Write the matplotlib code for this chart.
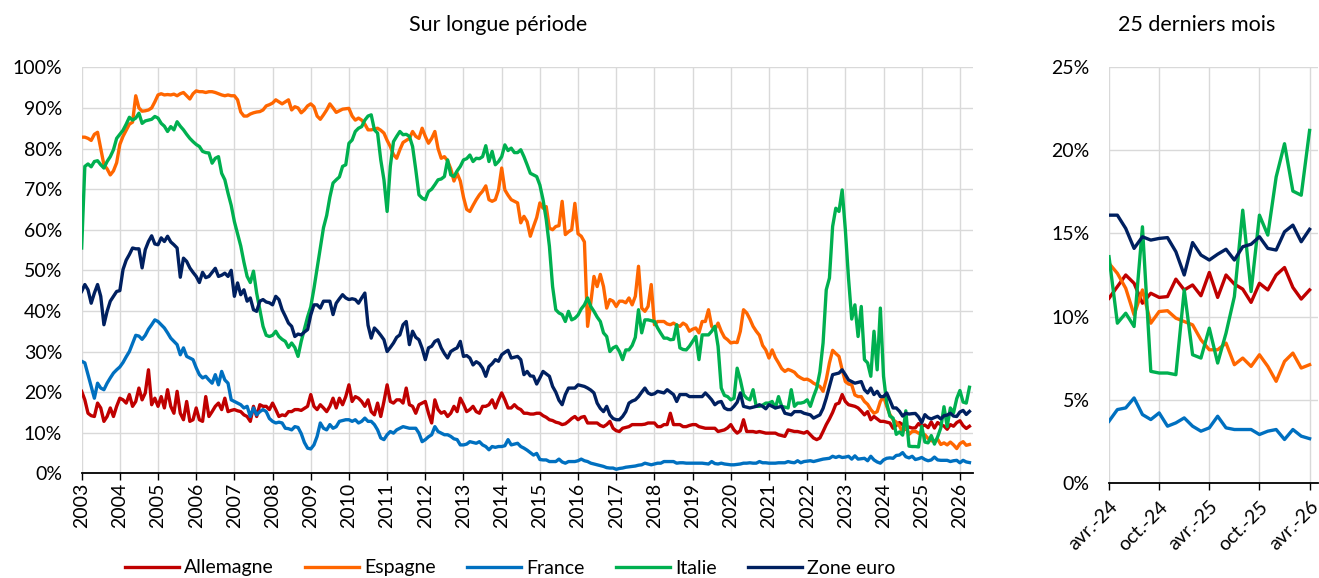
import matplotlib

matplotlib.use("Agg")
import matplotlib.pyplot as plt
import numpy as np
from matplotlib.ticker import FuncFormatter, MultipleLocator

# Monthly series, Jan 2003 -> Apr 2026 (values in %), one row per year.
ALLEMAGNE = [
    20.2, 18.1, 14.8, 14.2, 14.0, 17.3, 16.1, 12.8, 14.0, 16.1, 14.0, 16.5,  # 2003
    18.5, 18.1, 17.3, 19.4, 16.5, 17.7, 21.0, 18.1, 19.8, 25.5, 16.9, 18.5,  # 2004
    16.5, 18.9, 16.1, 20.6, 16.5, 14.8, 20.2, 14.8, 13.2, 17.7, 12.8, 13.2,  # 2005
    16.1, 13.2, 12.8, 18.9, 14.0, 15.2, 16.5, 17.3, 15.7, 18.5, 15.2, 15.5,  # 2006
    15.7, 15.4, 15.2, 14.4, 14.0, 12.8, 16.5, 14.0, 16.9, 16.5, 16.5, 15.7,  # 2007
    17.3, 15.7, 14.0, 14.4, 14.2, 15.2, 15.2, 15.7, 15.7, 15.5, 16.0, 16.5,  # 2008
    19.4, 16.5, 15.7, 16.9, 16.1, 15.2, 16.5, 18.5, 16.1, 18.5, 16.9, 18.9,  # 2009
    21.8, 17.7, 18.9, 18.5, 17.7, 16.5, 18.1, 15.2, 14.4, 17.3, 14.0, 17.7,  # 2010
    21.8, 17.7, 17.3, 18.1, 18.1, 17.3, 21.0, 16.9, 16.5, 14.8, 16.9, 17.3,  # 2011
    17.7, 14.8, 12.4, 18.1, 15.7, 14.8, 15.2, 14.0, 14.8, 16.5, 15.2, 18.5,  # 2012
    17.0, 15.2, 15.7, 16.5, 15.2, 14.8, 16.5, 16.5, 16.9, 18.1, 16.1, 18.1,  # 2013
    19.8, 18.1, 16.1, 16.1, 16.9, 16.1, 15.7, 14.8, 14.8, 14.6, 14.6, 14.8,  # 2014
    14.8, 14.2, 13.8, 13.2, 13.0, 12.6, 12.4, 12.0, 12.2, 12.8, 13.5, 14.0,  # 2015
    13.2, 13.8, 14.0, 12.4, 12.4, 12.4, 12.4, 11.8, 11.5, 12.0, 12.8, 11.1,  # 2016
    10.5, 10.3, 11.1, 11.3, 11.5, 12.0, 12.0, 12.0, 12.0, 12.1, 12.4, 12.4,  # 2017
    12.4, 11.5, 11.5, 12.0, 12.0, 14.8, 12.0, 12.0, 12.0, 11.5, 11.5, 11.8,  # 2018
    12.0, 12.0, 11.5, 11.3, 11.1, 11.1, 11.1, 11.1, 10.3, 10.5, 10.7, 11.2,  # 2019
    12.0, 10.7, 9.9, 10.5, 13.2, 10.3, 10.3, 10.3, 10.1, 10.3, 10.1, 9.9,  # 2020
    9.9, 9.9, 9.9, 9.5, 9.3, 9.1, 10.7, 10.5, 10.3, 10.3, 10.1, 9.9,  # 2021
    10.3, 9.5, 8.7, 8.3, 8.7, 10.3, 12.0, 13.4, 15.0, 17.0, 17.3, 19.4,  # 2022
    17.7, 16.9, 16.7, 16.5, 16.1, 15.3, 14.4, 15.2, 13.2, 14.0, 13.4, 12.8,  # 2023
    12.8, 12.6, 12.4, 11.1, 11.8, 12.5, 12.0, 10.8, 11.4, 11.15, 11.2, 12.25,  # 2024
    11.6, 11.9, 11.25, 12.65, 11.15, 12.5, 11.95, 11.65, 10.85, 12.0, 11.6, 12.5,  # 2025
    12.95, 11.75, 11.05, 11.6,  # 2026
]

ESPAGNE = [
    82.8, 82.8, 82.5, 82.0, 83.5, 84.0, 80.0, 76.0, 75.0, 73.5, 74.5, 76.5,  # 2003
    81.0, 83.0, 84.5, 86.0, 86.5, 93.0, 90.0, 89.2, 89.3, 89.5, 90.0, 91.5,  # 2004
    93.2, 93.5, 93.2, 93.3, 93.2, 93.4, 93.0, 93.5, 93.8, 93.0, 92.2, 93.5,  # 2005
    94.2, 94.0, 94.0, 93.8, 94.0, 94.0, 93.8, 93.5, 93.2, 93.0, 93.2, 93.0,  # 2006
    93.0, 92.0, 89.0, 88.0, 88.0, 88.5, 88.8, 89.0, 89.1, 89.5, 90.5, 90.8,  # 2007
    91.2, 92.0, 91.5, 91.0, 91.5, 92.0, 89.5, 90.3, 90.0, 88.8, 89.5, 90.5,  # 2008
    91.0, 90.3, 88.0, 87.2, 88.3, 89.5, 91.0, 90.0, 88.9, 89.3, 89.7, 89.8,  # 2009
    89.9, 88.0, 87.0, 87.5, 87.0, 86.0, 84.6, 84.6, 84.8, 85.0, 84.5, 83.8,  # 2010
    82.0, 80.5, 78.5, 77.6, 79.7, 81.5, 82.0, 82.5, 84.2, 83.0, 82.5, 85.0,  # 2011
    83.0, 81.3, 82.5, 84.2, 80.0, 77.6, 78.0, 77.0, 75.0, 72.0, 73.9, 72.0,  # 2012
    68.0, 65.0, 64.5, 66.0, 67.4, 68.6, 69.5, 70.8, 67.4, 67.0, 67.4, 69.8,  # 2013
    75.2, 69.8, 68.5, 67.4, 67.0, 66.6, 61.7, 63.3, 62.0, 58.4, 60.8, 63.0,  # 2014
    66.6, 65.3, 65.7, 60.4, 60.0, 60.8, 61.0, 67.0, 58.8, 59.5, 60.0, 66.5,  # 2015
    59.0, 58.4, 57.0, 36.2, 42.0, 48.5, 46.0, 49.0, 46.0, 40.7, 42.8, 42.4,  # 2016
    41.1, 42.4, 42.4, 42.0, 43.2, 41.5, 43.6, 51.0, 40.7, 39.9, 41.1, 46.5,  # 2017
    36.6, 37.4, 37.4, 37.4, 36.8, 36.6, 37.0, 36.5, 36.2, 37.0, 36.5, 35.0,  # 2018
    35.5, 35.8, 34.6, 37.4, 37.4, 40.3, 36.2, 35.4, 37.0, 35.0, 33.5, 32.9,  # 2019
    32.1, 32.3, 32.2, 35.0, 40.3, 39.5, 38.0, 36.2, 35.0, 34.0, 31.5, 30.4,  # 2020
    28.4, 30.4, 28.5, 27.2, 25.8, 25.1, 25.6, 25.3, 24.9, 24.0, 23.5, 23.1,  # 2021
    23.2, 22.8, 22.2, 21.8, 21.4, 20.2, 23.1, 27.2, 30.3, 29.5, 28.8, 25.5,  # 2022
    22.6, 22.0, 21.8, 19.3, 18.9, 18.9, 17.7, 17.0, 15.7, 14.8, 15.2, 17.7,  # 2023
    18.9, 16.5, 14.5, 13.2, 12.6, 11.7, 10.1, 11.6, 9.6, 10.3, 10.35, 9.9,  # 2024
    9.7, 9.5, 8.6, 8.0, 8.0, 8.4, 7.1, 7.5, 7.0, 7.7, 7.0, 6.1,  # 2025
    7.3, 7.8, 6.9, 7.1,  # 2026
]

FRANCE = [
    27.6, 27.2, 24.3, 21.4, 18.5, 22.2, 21.0, 20.6, 22.2, 23.5, 24.7, 25.5,  # 2003
    26.2, 27.3, 28.7, 30.0, 32.0, 34.0, 33.8, 33.0, 34.0, 35.5, 36.6, 37.8,  # 2004
    37.4, 36.6, 35.8, 34.6, 33.3, 32.5, 31.7, 29.2, 30.9, 28.8, 28.4, 28.0,  # 2005
    26.0, 24.3, 23.5, 23.9, 23.0, 22.2, 24.3, 21.8, 25.1, 23.0, 22.2, 18.1,  # 2006
    17.7, 17.3, 16.9, 16.1, 16.5, 14.0, 16.1, 14.4, 15.2, 15.7, 15.2, 13.5,  # 2007
    12.8, 12.4, 12.6, 12.4, 11.1, 11.0, 10.7, 11.5, 11.3, 9.8, 7.6, 6.2,  # 2008
    6.0, 7.0, 9.1, 12.4, 11.1, 10.7, 12.0, 11.1, 11.5, 12.8, 13.0, 13.2,  # 2009
    13.2, 12.8, 13.2, 12.4, 12.8, 13.6, 12.8, 12.8, 12.0, 10.7, 8.7, 8.3,  # 2010
    9.5, 10.3, 9.9, 10.7, 11.1, 11.5, 11.3, 11.1, 11.1, 11.1, 9.9, 7.8,  # 2011
    8.3, 9.0, 9.5, 11.5, 10.3, 9.9, 9.5, 9.5, 9.1, 8.5, 8.3, 7.0,  # 2012
    7.0, 7.2, 7.8, 7.6, 7.4, 7.8, 7.0, 6.6, 5.8, 6.6, 6.4, 6.6,  # 2013
    6.6, 6.8, 8.3, 7.0, 7.2, 7.4, 6.6, 6.2, 5.7, 5.1, 4.5, 4.9,  # 2014
    3.4, 3.3, 3.3, 2.9, 2.9, 2.9, 3.5, 2.8, 2.5, 2.9, 2.9, 2.9,  # 2015
    3.1, 3.5, 3.1, 2.9, 2.5, 2.3, 2.1, 1.9, 1.7, 1.4, 1.3, 1.3,  # 2016
    1.0, 1.2, 1.3, 1.5, 1.6, 1.7, 1.8, 2.0, 2.1, 2.5, 2.3, 2.1,  # 2017
    2.3, 2.5, 2.5, 2.9, 2.9, 2.9, 2.9, 2.5, 2.6, 2.6, 2.5, 2.5,  # 2018
    2.5, 2.5, 2.5, 2.5, 2.4, 2.3, 2.9, 2.4, 2.3, 2.5, 2.3, 2.2,  # 2019
    2.1, 2.1, 2.2, 2.3, 2.5, 2.5, 2.6, 2.5, 2.5, 2.9, 2.6, 2.6,  # 2020
    2.5, 2.5, 2.5, 2.6, 2.6, 2.6, 2.9, 2.7, 2.6, 3.1, 2.6, 2.9,  # 2021
    3.0, 3.1, 2.9, 3.1, 3.3, 3.5, 3.6, 3.7, 4.2, 3.9, 4.2, 3.9,  # 2022
    4.0, 4.2, 3.5, 4.3, 3.5, 3.6, 3.7, 3.1, 4.2, 3.3, 2.8, 2.5,  # 2023
    3.3, 3.7, 3.8, 3.7, 4.4, 4.5, 5.1, 4.1, 3.8, 4.2, 3.4, 3.6,  # 2024
    3.9, 3.4, 3.1, 3.3, 4.0, 3.3, 3.2, 3.2, 3.2, 2.9, 3.1, 3.2,  # 2025
    2.6, 3.2, 2.8, 2.65,  # 2026
]

ITALIE = [
    55.5, 75.6, 76.2, 75.5, 76.8, 77.0, 76.0, 75.2, 76.8, 78.0, 79.7, 82.5,  # 2003
    83.5, 84.5, 86.0, 87.7, 87.0, 87.5, 88.7, 86.2, 86.8, 87.0, 87.2, 87.9,  # 2004
    87.5, 86.2, 85.5, 84.2, 85.4, 84.6, 86.6, 85.5, 84.6, 83.5, 82.5, 81.7,  # 2005
    81.0, 80.5, 79.3, 79.0, 78.9, 76.4, 77.6, 78.0, 73.9, 72.3, 69.0, 66.0,  # 2006
    62.0, 59.0, 56.0, 52.0, 48.5, 47.0, 49.8, 44.4, 40.3, 36.2, 34.0, 33.7,  # 2007
    34.0, 35.0, 33.7, 33.0, 32.5, 31.0, 32.1, 31.0, 28.8, 32.5, 35.5, 38.5,  # 2008
    41.0, 45.5, 50.5, 55.5, 60.5, 63.5, 68.0, 71.5, 72.3, 73.0, 75.6, 76.0,  # 2009
    81.3, 82.1, 84.2, 85.0, 85.4, 87.0, 88.0, 88.3, 84.6, 83.8, 77.2, 72.3,  # 2010
    64.5, 75.6, 81.7, 83.0, 84.2, 83.4, 83.5, 83.0, 80.5, 74.8, 68.6, 67.8,  # 2011
    67.4, 69.4, 70.0, 71.1, 72.3, 72.5, 73.1, 77.2, 73.5, 73.1, 74.5, 75.6,  # 2012
    77.2, 77.5, 78.4, 76.8, 77.6, 77.5, 78.0, 80.7, 76.8, 79.3, 76.0, 76.8,  # 2013
    78.0, 80.9, 79.5, 80.1, 79.0, 79.0, 79.7, 78.0, 76.0, 73.9, 73.5, 73.1,  # 2014
    71.0, 67.4, 62.5, 55.9, 46.0, 40.3, 39.5, 39.1, 37.4, 39.9, 37.8, 38.2,  # 2015
    39.0, 40.5, 41.5, 43.2, 41.1, 39.9, 38.5, 37.4, 34.6, 33.7, 30.0, 30.9,  # 2016
    31.3, 30.0, 28.0, 30.4, 30.4, 31.5, 33.5, 40.3, 34.6, 37.8, 37.8, 37.6,  # 2017
    37.4, 35.8, 34.5, 33.3, 33.3, 32.9, 33.0, 36.6, 30.9, 30.5, 30.4, 31.3,  # 2018
    32.5, 33.7, 28.0, 34.1, 34.1, 34.1, 35.0, 36.2, 31.3, 21.0, 19.2, 18.9,  # 2019
    18.1, 18.5, 25.9, 23.0, 19.4, 18.5, 18.1, 20.6, 16.5, 16.5, 16.8, 17.3,  # 2020
    17.3, 17.7, 16.1, 18.9, 16.5, 16.3, 16.1, 20.6, 16.5, 17.3, 17.3, 17.5,  # 2021
    18.1, 16.5, 18.9, 21.0, 25.0, 32.1, 45.2, 48.1, 60.8, 65.3, 64.5, 69.8,  # 2022
    60.0, 48.0, 38.0, 41.5, 33.7, 41.1, 28.0, 27.2, 23.9, 35.0, 25.5, 40.7,  # 2023
    23.9, 17.3, 14.1, 13.6, 9.6, 10.2, 9.4, 15.4, 6.7, 6.6, 6.6, 6.5,  # 2024
    11.6, 7.7, 7.5, 9.3, 7.2, 9.0, 11.2, 16.4, 11.5, 16.1, 14.9, 18.4,  # 2025
    20.4, 17.55, 17.3, 21.2,  # 2026
]

ZONE_EURO = [
    44.8, 46.5, 45.2, 41.9, 44.4, 46.5, 43.6, 36.6, 39.9, 42.4, 43.6, 44.8,  # 2003
    45.0, 50.2, 52.5, 53.9, 55.5, 55.3, 55.3, 50.6, 55.1, 57.1, 58.5, 56.5,  # 2004
    56.3, 58.0, 57.1, 58.4, 57.0, 56.3, 55.5, 48.3, 53.0, 52.2, 50.6, 49.5,  # 2005
    48.5, 47.0, 49.5, 48.2, 48.5, 49.5, 50.5, 48.5, 48.8, 49.3, 48.5, 50.0,  # 2006
    43.6, 46.9, 44.0, 45.2, 42.4, 43.2, 40.3, 39.9, 42.4, 42.8, 42.2, 42.0,  # 2007
    41.5, 43.6, 42.8, 40.3, 38.7, 37.0, 36.2, 33.7, 34.3, 34.1, 34.8, 35.4,  # 2008
    39.0, 41.5, 41.5, 40.7, 42.4, 42.4, 42.4, 39.1, 41.9, 43.0, 44.0, 43.2,  # 2009
    42.8, 43.0, 42.8, 41.9, 43.2, 44.4, 36.5, 33.3, 35.8, 35.0, 34.0, 32.9,  # 2010
    30.0, 31.0, 32.1, 33.5, 34.1, 36.6, 37.4, 31.7, 35.0, 33.5, 32.9, 30.8,  # 2011
    28.0, 30.9, 31.3, 32.5, 32.9, 30.9, 29.5, 28.4, 30.0, 30.5, 30.9, 32.5,  # 2012
    28.8, 29.0, 28.4, 26.7, 27.5, 27.0, 25.9, 23.9, 26.3, 27.0, 28.0, 27.6,  # 2013
    29.2, 29.8, 30.3, 28.4, 28.6, 28.8, 28.0, 24.3, 25.1, 24.0, 23.9, 22.0,  # 2014
    23.5, 25.1, 24.5, 23.9, 21.4, 20.0, 18.0, 16.9, 19.4, 21.0, 21.0, 21.0,  # 2015
    21.8, 21.6, 21.4, 21.0, 20.5, 19.8, 17.3, 16.0, 15.2, 16.5, 14.4, 13.5,  # 2016
    13.2, 13.2, 14.0, 15.2, 17.3, 17.8, 18.1, 18.9, 20.0, 21.0, 19.8, 19.4,  # 2017
    19.6, 20.2, 20.0, 19.8, 20.6, 20.0, 19.4, 17.7, 19.4, 19.4, 19.4, 18.9,  # 2018
    18.9, 18.9, 18.9, 18.9, 19.8, 19.0, 18.1, 16.9, 17.5, 17.7, 16.1, 15.7,  # 2019
    15.7, 16.5, 17.5, 19.8, 16.5, 16.3, 16.1, 16.3, 16.5, 16.9, 16.5, 15.9,  # 2020
    16.9, 16.5, 16.1, 16.3, 16.5, 14.8, 14.6, 14.4, 15.2, 15.2, 15.2, 14.8,  # 2021
    14.6, 14.4, 13.6, 14.0, 14.4, 16.0, 18.5, 21.4, 24.3, 24.5, 24.7, 25.5,  # 2022
    24.3, 23.0, 22.6, 22.2, 22.4, 22.6, 20.6, 19.8, 21.0, 19.4, 20.2, 18.9,  # 2023
    18.9, 19.8, 18.0, 16.1, 16.1, 15.3, 14.1, 14.8, 14.6, 14.7, 14.75, 13.9,  # 2024
    12.5, 14.45, 13.7, 13.4, 13.75, 14.05, 13.4, 14.2, 14.35, 14.8, 14.1, 14.0,  # 2025
    15.1, 15.5, 14.5, 15.25,  # 2026
]

YEARS = list(range(2003, 2027))
N_RECENT = 25
RECENT_TICKS = [0, 6, 12, 18, 24]
RECENT_LABELS = ["avr.-24", "oct.-24", "avr.-25", "oct.-25", "avr.-26"]

SERIES = [
    ("Allemagne", ALLEMAGNE, "#C00000"),
    ("Espagne", ESPAGNE, "#FF6600"),
    ("France", FRANCE, "#0070C0"),
    ("Italie", ITALIE, "#00B050"),
    ("Zone euro", ZONE_EURO, "#002060"),
]

FONT = ["Lato", "DejaVu Sans"]
GRID = "#d9d9d9"
TICK_SIZE = 14

plt.rcParams.update({"font.family": FONT, "font.size": TICK_SIZE})


def _frame(ax):
    for side in ("top", "right", "left"):
        ax.spines[side].set_visible(False)
    ax.spines["bottom"].set_color("black")
    ax.spines["bottom"].set_linewidth(1.3)
    ax.grid(True, color=GRID, linewidth=1.0)
    ax.set_axisbelow(True)
    ax.yaxis.set_major_formatter(FuncFormatter(lambda v, _: f"{v:.0f}%"))
    ax.tick_params(axis="y", length=0, pad=14, labelsize=TICK_SIZE)
    ax.tick_params(axis="x", length=5, width=1, direction="out", color="black")


fig = plt.figure(figsize=(13.19, 5.78), dpi=100)

# long period
ax = fig.add_axes([0.0619, 0.1811, 0.6755, 0.7024])
months = np.arange(len(ALLEMAGNE))
for name, values, color in SERIES:
    ax.plot(months, values, color=color, linewidth=2.4, label=name, solid_joinstyle="round")
ax.set_xlim(0, len(ALLEMAGNE))
ax.set_ylim(0, 100)
ax.yaxis.set_major_locator(MultipleLocator(10))
ax.set_xticks([12 * (y - YEARS[0]) for y in YEARS])
ax.set_xticklabels([str(y) for y in YEARS], rotation=90, fontsize=TICK_SIZE)
_frame(ax)
ax.tick_params(axis="x", pad=2)

# last 25 months
ax2 = fig.add_axes([0.8408, 0.1649, 0.1584, 0.7187])
recent = np.arange(N_RECENT)
for name, values, color in SERIES:
    ax2.plot(recent, values[-N_RECENT:], color=color, linewidth=2.4, solid_joinstyle="round")
ax2.set_xlim(0, N_RECENT)
ax2.set_ylim(0, 25)
ax2.yaxis.set_major_locator(MultipleLocator(5))
ax2.set_xticks(RECENT_TICKS)
ax2.set_xticklabels(RECENT_LABELS, rotation=45, ha="right", rotation_mode="anchor",
                    fontsize=TICK_SIZE)
_frame(ax2)
ax2.tick_params(axis="x", pad=6)

fig.text(498 / 1319, 1 - 25 / 578, "Sur longue période", ha="center", va="center", fontsize=15.5)
fig.text(1197 / 1319, 1 - 25 / 578, "25 derniers mois", ha="center", va="center", fontsize=15.5)

handles, labels = ax.get_legend_handles_labels()
fig.legend(
    handles,
    labels,
    loc="center",
    bbox_to_anchor=(510 / 1319, 1 - 568 / 578),
    ncol=5,
    frameon=False,
    fontsize=14,
    handlelength=2.8,
    handletextpad=0.25,
    columnspacing=1.6,
)

fig.savefig("out.png", dpi=100)
